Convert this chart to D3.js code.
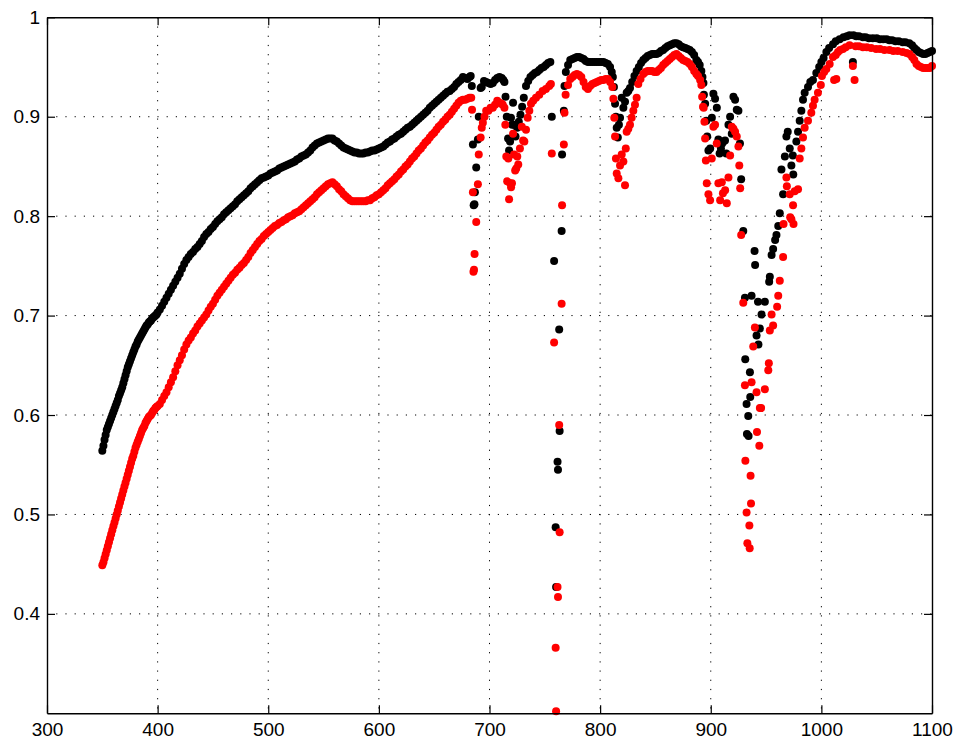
<!DOCTYPE html>
<html>
<head>
<meta charset="utf-8">
<script src="https://cdn.jsdelivr.net/npm/d3@7"></script>
<style>
  html, body { margin: 0; padding: 0; background: #fff; }
  svg { display: block; }
  .tick text { font-family: "Liberation Sans", Arial, Helvetica, sans-serif; font-size: 19px; fill: #000; }
</style>
</head>
<body>
<svg id="chart" width="960" height="744"></svg>
<script>
// ---------- data: [wavelength (nm), value] ----------
const blackUV = [[350,.564],[351,.569],[352,.575],[353,.580],[354,.585],[355,.588],[356,.591],[357,.594],[358,.597],[359,.600],[360,.603],[361,.606],[362,.609],[363,.612],[364,.615],[365,.619],[366,.622],[367,.625],[368,.628],[369,.632],[370,.636],[371,.640],[372,.644],[373,.648],[374,.651],[375,.654],[376,.657],[377,.660],[378,.663],[379,.666],[380,.669],[381,.671],[382,.674],[383,.676],[384,.678],[385,.680],[386,.682],[387,.684],[388,.686],[389,.688],[390,.690],[391,.691],[392,.693],[393,.694],[394,.695],[395,.697],[396,.698],[397,.699],[398,.700],[399,.701],[400,.703]];
const blackVis = [[402,.706],[404,.710],[406,.714],[408,.718],[410,.722],[412,.726],[414,.730],[416,.734],[418,.738],[420,.742],[422,.747],[424,.752],[426,.756],[428,.759],[430,.762],[432,.764],[434,.767],[436,.769],[438,.772],[440,.775],[442,.779],[444,.782],[446,.784],[448,.787],[450,.789],[452,.792],[454,.795],[456,.797],[458,.799],[460,.802],[462,.804],[464,.806],[466,.808],[468,.810],[470,.812],[472,.815],[474,.817],[476,.819],[478,.821],[480,.823],[482,.825],[484,.828],[486,.830],[488,.832],[490,.834],[492,.836],[494,.838],[496,.839],[498,.840],[500,.841],[502,.843],[504,.844],[506,.845],[508,.846],[510,.848],[512,.849],[514,.850],[516,.851],[518,.852],[520,.853],[522,.854],[524,.855],[526,.857],[528,.858],[530,.860],[532,.861],[534,.862],[536,.864],[538,.866],[540,.869],[542,.871],[544,.873],[546,.874],[548,.875],[550,.876],[552,.877],[554,.878],[556,.878],[558,.878],[560,.876],[562,.875],[564,.873],[566,.871],[568,.869],[570,.868],[572,.867],[574,.866],[576,.865],[578,.864],[580,.864],[582,.863],[584,.863],[586,.863],[588,.864],[590,.864],[592,.865],[594,.866],[596,.866],[598,.867],[600,.868],[602,.869],[604,.870],[606,.872],[608,.874],[610,.875],[612,.877],[614,.878],[616,.880],[618,.882],[620,.883],[622,.885],[624,.887],[626,.889],[628,.890],[630,.892],[632,.894],[634,.896],[636,.898],[638,.900],[640,.902],[642,.904],[644,.906],[646,.909],[648,.911],[650,.913],[652,.915],[654,.917],[656,.919],[658,.921],[660,.923],[662,.925],[664,.926],[666,.928],[668,.930],[670,.933],[672,.935],[674,.937],[676,.940],[678,.939],[680,.938],[682,.940],[683,.941],[684,.931]];
const blackRed = [[685,.872],[685.7,.811],[686.4,.812],[686.8,.824],[688,.849],[689.5,.877],[690.3,.900],[692,.929],[693,.930],[695,.936],[697,.935],[699,.934],[701,.933],[703,.934],[705,.937],[707,.939],[709,.940],[711,.939],[712.5,.937],[713.5,.935],[714.5,.920],[715.6,.900],[716.8,.878],[717.7,.866],[718.6,.875],[719.4,.899],[720.5,.892],[721.3,.914],[722.2,.892],[723.5,.880],[725,.889],[726.5,.895],[728,.902],[729.5,.910],[731,.919],[733,.931],[735,.936],[737,.940],[739,.942],[741,.944],[743,.945],[745,.947],[747,.949],[749,.950],[751,.952],[753,.954],[755,.955],[756.3,.900],[758.4,.755],[759.8,.487],[760.2,.427],[761.5,.553],[761.9,.545],[763.0,.686],[763.4,.584],[765.2,.785],[765.6,.862],[767.2,.906],[767.8,.931],[769,.945],[771,.952],[773,.957],[775,.958],[777,.959],[779,.960],[781,.960],[783,.959],[785,.958],[787,.956],[789,.955],[791,.955],[793,.955],[795,.955],[797,.955],[799,.955],[801,.955],[803,.955],[805,.954],[807,.953],[809,.950],[810.5,.945],[811.5,.940],[812.5,.930],[813.5,.913],[814.3,.900],[815,.889],[816,.879],[817,.892],[818,.899],[819.5,.919],[821,.909],[822.5,.915],[824,.924],[825.5,.926],[827,.929],[829,.935],[831,.941],[833,.946],[835,.950],[837,.954],[839,.957],[841,.959],[843,.961],[845,.962],[847,.963],[849,.963],[851,.963],[853,.964],[855,.966],[857,.967],[859,.969],[861,.971],[863,.972],[865,.973],[867,.974],[869,.974],[871,.973],[873,.971],[875,.970],[877,.969],[879,.968],[881,.967],[883,.965],[885,.962],[887,.957],[888.5,.955],[890,.952],[891.5,.946],[892.5,.940],[893.4,.934],[893.8,.922],[894.9,.913]];
const blackNIR = [[896,.896],[896.8,.880],[897.9,.866],[899.5,.868],[901,.899],[902.4,.923],[903.9,.918],[905.5,.909],[906.9,.877],[908,.863],[909.2,.868],[910.3,.873],[911.4,.875],[912.9,.876],[914,.863],[916,.892],[917.5,.900],[919,.883],[920.5,.920],[922,.917],[923.5,.907],[925,.906],[926.4,.873],[927.5,.837],[929.4,.785],[930.9,.718],[931.2,.656],[932.4,.611],[932.7,.581],[933.9,.599],[934.2,.579],[935.4,.643],[935.7,.618],[936.9,.720],[939.6,.765],[940.1,.751],[941.4,.680],[942.7,.714],[943.1,.671],[944.4,.687],[945.9,.701],[948.9,.714],[952.8,.734],[953.4,.739],[955,.761],[956.4,.767],[958.2,.776],[959.4,.781],[961,.790],[962.4,.803],[963.9,.847],[965.4,.822],[967,.860],[968.4,.880],[969.6,.885],[971.4,.868],[972.9,.851],[974.2,.861],[974.6,.842],[977.4,.875],[978.9,.885],[980.4,.896],[981.9,.906],[983.4,.917],[984.9,.924],[987.9,.930],[990,.935],[992.4,.937],[995.4,.944],[998,.950],[1000,.955],[1002,.959],[1004.5,.965],[1007,.969],[1010.5,.973],[1013,.976],[1016.5,.978],[1020,.980],[1023,.981],[1025.5,.982],[1028.5,.955],[1029,.982],[1031.5,.981],[1034,.981],[1037.5,.980],[1040,.980],[1043,.979],[1046.5,.979],[1050,.979],[1053,.978],[1056,.978],[1059,.978],[1061.5,.977],[1064,.977],[1067,.976],[1070,.976],[1073.5,.975],[1076,.975],[1079.5,.974],[1082,.972],[1084,.969],[1086,.967],[1088,.965],[1090,.964],[1092,.963],[1094,.963],[1096,.964],[1098,.965],[1100,.966]];

const redUV = [[350,.449],[351,.452],[352,.456],[353,.460],[354,.464],[355,.468],[356,.472],[357,.476],[358,.480],[359,.484],[360,.488],[361,.492],[362,.496],[363,.500],[364,.504],[365,.508],[366,.512],[367,.516],[368,.520],[369,.524],[370,.528],[371,.532],[372,.536],[373,.540],[374,.544],[375,.548],[376,.552],[377,.556],[378,.559],[379,.563],[380,.567],[381,.570],[382,.573],[383,.576],[384,.579],[385,.582],[386,.585],[387,.587],[388,.589],[389,.592],[390,.594],[391,.596],[392,.598],[393,.599],[394,.600],[395,.602],[396,.604],[397,.605],[398,.607],[399,.608],[400,.609]];
const redVis = [[402,.611],[404,.615],[406,.619],[408,.623],[410,.628],[412,.633],[414,.638],[416,.644],[418,.650],[420,.655],[422,.660],[424,.666],[426,.671],[428,.675],[430,.678],[432,.682],[434,.685],[436,.689],[438,.692],[440,.695],[442,.698],[444,.701],[446,.705],[448,.709],[450,.712],[452,.716],[454,.720],[456,.723],[458,.726],[460,.729],[462,.732],[464,.735],[466,.738],[468,.741],[470,.743],[472,.746],[474,.748],[476,.751],[478,.753],[480,.756],[482,.759],[484,.763],[486,.766],[488,.769],[490,.772],[492,.775],[494,.777],[496,.780],[498,.782],[500,.784],[502,.786],[504,.788],[506,.790],[508,.791],[510,.793],[512,.794],[514,.796],[516,.797],[518,.799],[520,.800],[522,.801],[524,.803],[526,.804],[528,.805],[530,.807],[532,.809],[534,.811],[536,.813],[538,.815],[540,.817],[542,.819],[544,.822],[546,.824],[548,.826],[550,.828],[552,.830],[554,.832],[556,.833],[558,.834],[560,.832],[562,.830],[564,.827],[566,.825],[568,.822],[570,.820],[572,.818],[574,.816],[576,.815],[578,.815],[580,.815],[582,.815],[584,.815],[586,.815],[588,.815],[590,.816],[592,.816],[594,.818],[596,.819],[598,.821],[600,.822],[602,.824],[604,.826],[606,.828],[608,.831],[610,.833],[612,.835],[614,.837],[616,.840],[618,.842],[620,.845],[622,.847],[624,.850],[626,.852],[628,.855],[630,.858],[632,.860],[634,.863],[636,.866],[638,.868],[640,.871],[642,.874],[644,.876],[646,.879],[648,.882],[650,.884],[652,.887],[654,.890],[656,.892],[658,.895],[660,.897],[662,.900],[664,.902],[666,.905],[668,.908],[670,.911],[672,.914],[674,.916],[676,.917],[678,.917],[680,.918],[682,.919],[683.5,.919],[684.2,.907]];
const redRed = [[685,.824],[685.5,.744],[686,.746],[686.5,.762],[688,.794],[689.5,.832],[690.3,.862],[692,.879],[693,.889],[694,.894],[695.5,.900],[697,.906],[699,.906],[701,.909],[703,.909],[705,.912],[707,.916],[709,.914],[711,.913],[712,.912],[713.5,.909],[714.3,.892],[715.2,.860],[716,.835],[717,.858],[717.7,.817],[718.6,.833],[719.5,.829],[720.3,.833],[721.3,.883],[722.2,.862],[723.2,.846],[724.2,.848],[725.1,.860],[726,.852],[727.5,.868],[729.2,.890],[730.4,.876],[731.5,.875],[733,.887],[734.5,.899],[736,.906],[737.5,.913],[739.5,.916],[742,.919],[745,.922],[748,.926],[751,.928],[754,.931],[755.5,.933],[756.3,.863],[758.4,.673],[759.8,.366],[760.2,.302],[761.5,.427],[761.9,.417],[763.0,.590],[763.4,.482],[765.2,.712],[765.6,.811],[767.2,.872],[767.8,.904],[768.8,.922],[771,.932],[773,.938],[775,.940],[777,.942],[779,.943],[781,.942],[783,.940],[785,.935],[787,.930],[789,.928],[791,.931],[793,.933],[795,.934],[797,.935],[799,.936],[801,.937],[803,.937],[805,.938],[807,.938],[809,.935],[811,.930],[812,.918],[812.8,.899],[813.5,.880],[814.3,.858],[815,.843],[816.5,.838],[818,.851],[819.5,.862],[821,.855],[822.5,.831],[823.2,.868],[824,.885],[825.5,.888],[827,.892],[828.5,.899],[830,.906],[831.5,.912],[833,.919],[834.5,.933],[836.5,.938],[839,.943],[841,.945],[843,.946],[845,.946],[847,.946],[849,.945],[851,.945],[853,.947],[855,.949],[857,.952],[859,.954],[861,.956],[863,.958],[865,.960],[867,.962],[869,.963],[871,.961],[873,.959],[875,.957],[877,.956],[879,.955],[881,.953],[883,.950],[885,.946],[887,.943],[888.5,.941],[890.4,.937],[891.5,.932],[892.2,.920]];
const redNIR = [[893,.910],[893.6,.909],[894.3,.895],[894.9,.878],[895.6,.856],[896.4,.833],[897.9,.822],[899.4,.816],[900.9,.858],[902.4,.890],[903.9,.892],[905.4,.873],[906.9,.833],[908.5,.816],[910,.834],[911,.823],[913,.826],[914.5,.813],[916,.839],[917.5,.861],[919,.890],[920.5,.888],[922,.885],[923.5,.880],[925,.870],[925.8,.851],[926.6,.828],[927.5,.781],[929.4,.713],[930.9,.630],[931.3,.554],[932.4,.502],[933.1,.471],[934.9,.489],[935.2,.466],[936,.539],[936.4,.511],[936.9,.633],[938.4,.669],[939.9,.688],[941.4,.623],[941.8,.583],[943.9,.569],[944.4,.607],[945.5,.607],[948.9,.626],[952,.645],[952.5,.652],[953.4,.685],[955,.701],[956.4,.690],[960,.709],[961,.720],[962.4,.735],[965.4,.759],[965.8,.792],[968.4,.839],[968.8,.830],[971.4,.822],[971.8,.799],[972.9,.797],[974.4,.811],[974.8,.792],[975.9,.825],[978.9,.827],[980.4,.858],[981.9,.868],[983.4,.879],[984.9,.889],[987.9,.896],[990.9,.904],[992.4,.911],[993.9,.917],[996.9,.924],[999.5,.932],[1000.5,.941],[1002.5,.945],[1004.5,.948],[1007.5,.953],[1010.5,.960],[1011.5,.937],[1013,.962],[1013.5,.938],[1015,.965],[1017,.967],[1019.5,.968],[1022,.970],[1025.5,.972],[1028.5,.951],[1030,.937],[1031,.971],[1034,.971],[1037.5,.970],[1041,.970],[1045,.969],[1049.5,.968],[1053,.968],[1057,.967],[1061.5,.967],[1065,.966],[1069,.966],[1073.5,.965],[1077,.964],[1079.5,.963],[1082,.960],[1084,.957],[1086,.953],[1088,.951],[1090,.950],[1092,.949],[1094,.949],[1096,.949],[1098,.949],[1100,.951]];

const xTicks = [300, 400, 500, 600, 700, 800, 900, 1000, 1100];
const yTicks = [0.4, 0.5, 0.6, 0.7, 0.8, 0.9, 1];
const xDomain = [300, 1100];
const yDomain = [0.3, 1];

const series = [
  { name: "black", color: "#000000", points: blackUV.concat(blackVis, blackRed, blackNIR) },
  { name: "red",   color: "#ff0000", points: redUV.concat(redVis, redRed, redNIR) }
];

// ---------- layout ----------
const margin = { left: 47, top: 17.3, right: 28, bottom: 30.7 };
const W = 960, H = 744;
const iw = W - margin.left - margin.right;   // 885
const ih = H - margin.top - margin.bottom;   // 696

const svg = d3.select("#chart");
const g = svg.append("g").attr("transform", `translate(${margin.left},${margin.top})`);

const x = d3.scaleLinear().domain(xDomain).range([0, iw]);
const y = d3.scaleLinear().domain(yDomain).range([ih, 0]);

// grid (dotted)
const grid = g.append("g").attr("class", "grid");
grid.selectAll("line.vg").data(xTicks.slice(1, -1)).join("line")
  .attr("x1", d => x(d)).attr("x2", d => x(d)).attr("y1", 0).attr("y2", ih)
  .attr("stroke", "#000").attr("stroke-width", 1).attr("stroke-dasharray", "1.2,8");
grid.selectAll("line.hg").data(yTicks.filter(d => d < 1)).join("line")
  .attr("x1", 0).attr("x2", iw).attr("y1", d => y(d)).attr("y2", d => y(d))
  .attr("stroke", "#000").attr("stroke-width", 1).attr("stroke-dasharray", "1.2,8");

// points
series.forEach(s => {
  g.append("g").attr("class", "series-" + s.name)
    .selectAll("circle").data(s.points).join("circle")
    .attr("cx", d => x(d[0])).attr("cy", d => y(d[1])).attr("r", 4)
    .attr("fill", s.color);
});

// axes (MATLAB style: ticks inside, box)
const fmtY = d => (d === 1 ? "1" : d3.format(".1f")(d));
const axB = g.append("g").attr("transform", `translate(0,${ih})`)
  .call(d3.axisBottom(x).tickValues(xTicks).tickSizeInner(-8).tickSizeOuter(0).tickPadding(9).tickFormat(d3.format("d")));
const axL = g.append("g")
  .call(d3.axisLeft(y).tickValues(yTicks).tickSizeInner(-8).tickSizeOuter(0).tickPadding(7).tickFormat(fmtY));
const axT = g.append("g")
  .call(d3.axisTop(x).tickValues(xTicks).tickSizeInner(-8).tickSizeOuter(0).tickFormat(""));
const axR = g.append("g").attr("transform", `translate(${iw},0)`)
  .call(d3.axisRight(y).tickValues(yTicks).tickSizeInner(-8).tickSizeOuter(0).tickFormat(""));

[axB, axL, axT, axR].forEach(a => {
  a.select(".domain").attr("stroke", "#000").attr("stroke-width", 1.4);
  a.selectAll(".tick line").attr("stroke", "#000").attr("stroke-width", 1.2);
  a.attr("font-family", null).attr("font-size", null);
});
</script>
</body>
</html>
